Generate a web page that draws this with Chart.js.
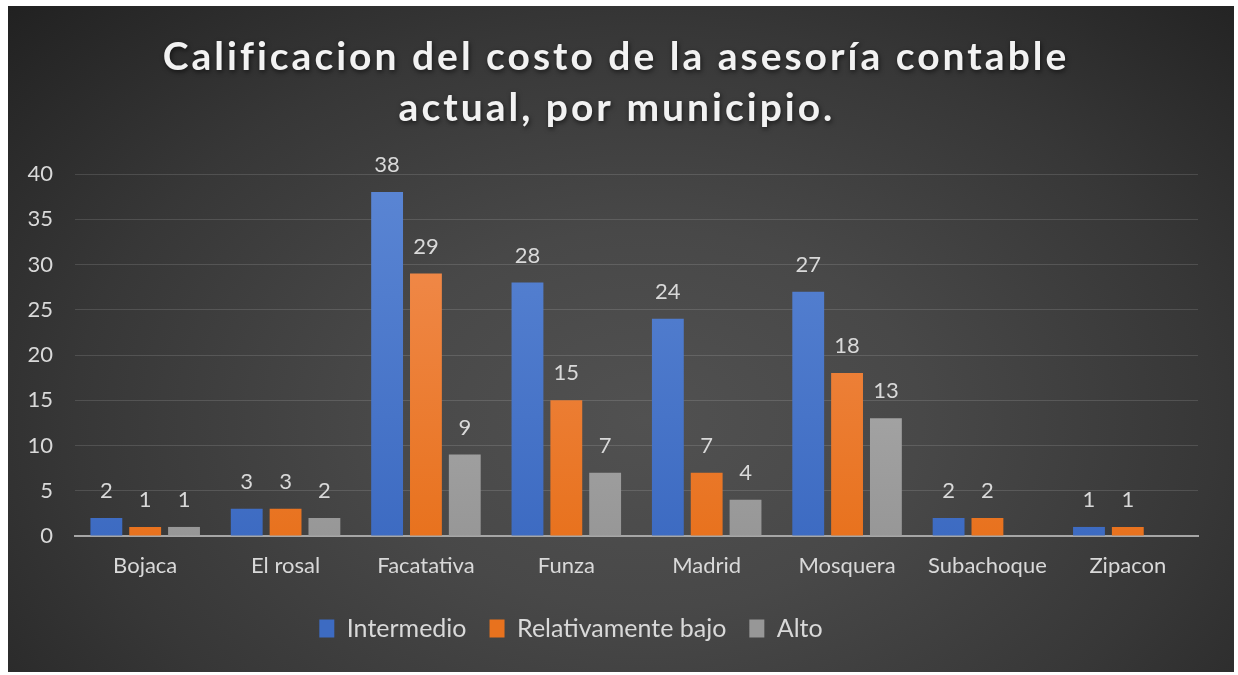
<!DOCTYPE html>
<html>
<head>
<meta charset="utf-8">
<script src="https://cdn.jsdelivr.net/npm/chart.js@4.4.1/dist/chart.umd.min.js"></script>
<style>
  html, body { margin: 0; padding: 0; background: #fff; }
  #wrap {
    position: absolute; left: 8px; top: 6px; width: 1226px; height: 666px;
    background: radial-gradient(ellipse 75% 95% at 52% 62%, #515151 0%, #484848 30%, #373737 62%, #1e1e1e 100%);
  }
</style>
</head>
<body>
<div id="wrap"><canvas id="c"></canvas></div>
<script>
const municipios = ['Bojaca', 'El rosal', 'Facatativa', 'Funza', 'Madrid', 'Mosquera', 'Subachoque', 'Zipacon'];
const intermedio = [2, 3, 38, 28, 24, 27, 2, 1];
const relBajo    = [1, 3, 29, 15, 7, 18, 2, 1];
const alto       = [1, 2, 9, 7, 4, 13, null, null];
const titleLines = ['Calificacion del costo de la asesoría contable', 'actual, por municipio.'];

const font = 'Lato, "Open Sans", sans-serif';
const txt = '#d9d9d9';

function grad(top, bottom) {
  return ctx => {
    const a = ctx.chart.chartArea;
    if (!a) return bottom;
    const g = ctx.chart.ctx.createLinearGradient(0, a.top, 0, a.bottom);
    g.addColorStop(0, top);
    g.addColorStop(1, bottom);
    return g;
  };
}

const titlePlugin = {
  id: 'title2',
  afterDraw(chart) {
    const c = chart.ctx;
    c.save();
    c.font = 'bold 39px ' + font;
    c.letterSpacing = '3px';
    c.fillStyle = '#f2f2f2';
    c.textAlign = 'center';
    c.textBaseline = 'middle';
    c.shadowColor = 'rgba(0,0,0,0.6)';
    c.shadowBlur = 5;
    c.shadowOffsetX = 1;
    c.shadowOffsetY = 2;
    c.fillText(titleLines[0], 608, 51);
    c.fillText(titleLines[1], 609, 102);
    c.restore();
  }
};

// legend in the original sits a bit left of centre
const legendShift = {
  id: 'legendShift',
  afterLayout(chart) {
    chart.legend.left -= 32;
    chart.legend.right -= 32;
  }
};

const labelPlugin = {
  id: 'vals',
  afterDatasetsDraw(chart) {
    const c = chart.ctx;
    c.save();
    c.font = '22px ' + font;
    c.fillStyle = txt;
    c.textAlign = 'center';
    c.textBaseline = 'middle';
    chart.data.datasets.forEach((ds, i) => {
      chart.getDatasetMeta(i).data.forEach((bar, j) => {
        const v = ds.data[j];
        if (v == null) return;
        c.fillText(String(v), bar.x, bar.y - 27);
      });
    });
    c.restore();
  }
};

new Chart(document.getElementById('c'), {
  type: 'bar',
  data: {
    labels: municipios,
    datasets: [
      { label: 'Intermedio', data: intermedio, backgroundColor: grad('#5b86d4', '#3d6bc2') },
      { label: 'Relativamente bajo', data: relBajo, backgroundColor: grad('#f28f55', '#e8721e') },
      { label: 'Alto', data: alto, backgroundColor: grad('#b8b8b8', '#979797') }
    ]
  },
  options: {
    responsive: true,
    maintainAspectRatio: false,
    animation: false,
    datasets: { bar: { categoryPercentage: 0.83, barPercentage: 0.82 } },
    layout: { padding: { top: 168, right: 36, bottom: 21, left: 0 } },
    plugins: {
      legend: {
        position: 'bottom',
        labels: { color: txt, font: { size: 25, family: font }, boxWidth: 15, boxHeight: 18, padding: 23 }
      },
      tooltip: { enabled: false }
    },
    scales: {
      x: {
        grid: { display: false },
        border: { color: '#a6a6a6', width: 2 },
        ticks: { color: txt, font: { size: 22, family: font }, padding: 9 },
        afterFit: s => { s.height = 57; }
      },
      y: {
        min: 0, max: 40,
        ticks: { stepSize: 5, color: txt, font: { size: 22, family: font }, padding: 22 },
        grid: { color: 'rgba(255,255,255,0.13)', drawTicks: false },
        border: { display: false },
        afterFit: s => { s.width = 67; }
      }
    }
  },
  plugins: [titlePlugin, labelPlugin, legendShift]
});
</script>
</body>
</html>
